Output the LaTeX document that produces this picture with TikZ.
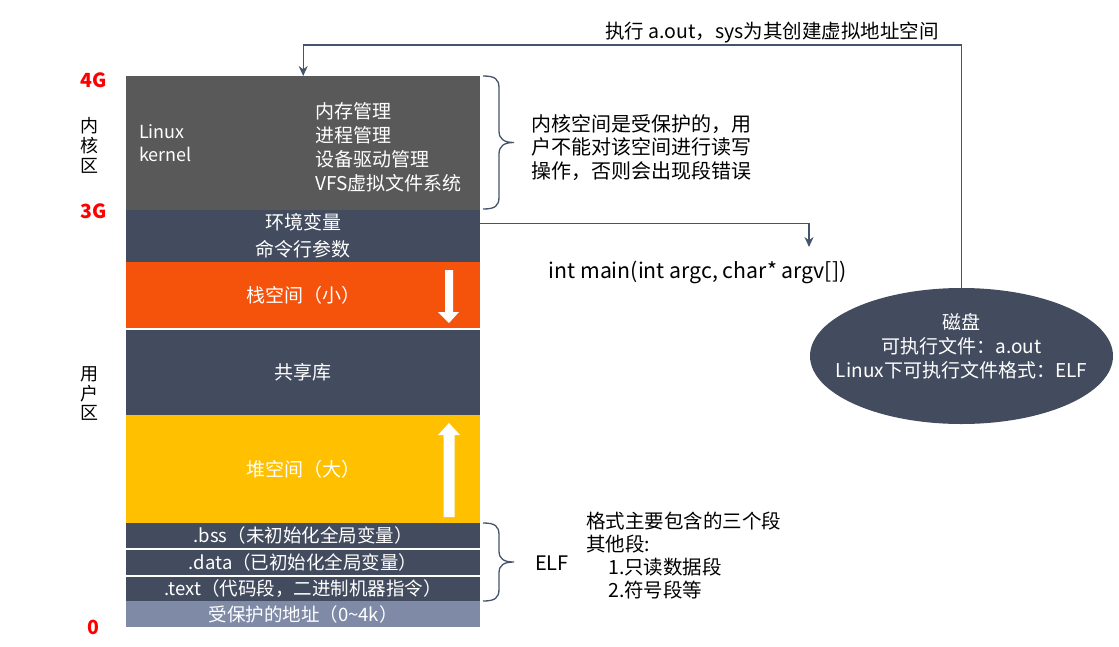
\documentclass[tikz,border=0pt]{standalone}
\usepackage{fontspec}
\setmainfont{Noto Sans CJK SC}
\usetikzlibrary{shapes.geometric,arrows.meta}
\definecolor{kgray}{HTML}{595959}
\definecolor{slate}{HTML}{434C5F}
\definecolor{lineslate}{HTML}{44546A}
\definecolor{stackor}{HTML}{F5520B}
\definecolor{heapy}{HTML}{FFC000}
\definecolor{protc}{HTML}{7E8AA6}
\newcommand\fsz[2]{\fontsize{#1}{#2}\selectfont}
\begin{document}
\begin{tikzpicture}[x=1pt,y=-1pt,
  blk/.style={anchor=north west, inner sep=0pt, minimum width=354pt, text=white, font=\fsz{19}{27}, align=center},
  wtxt/.style={text=white, inner sep=0pt, font=\fsz{19}{24}},
  btxt/.style={text=black, inner sep=0pt, font=\fsz{20}{23.5}, align=left},
  redlab/.style={text=red, inner sep=0pt, font=\fsz{19.5}{22}\bfseries},
  conn/.style={draw=lineslate, line width=1.3pt, -{Stealth[length=10pt,width=9pt]}},
  brc/.style={draw=lineslate, line width=1.3pt}]
\useasboundingbox (0,0) rectangle (1119,646);

% memory blocks
\node[blk, fill=kgray, minimum height=134pt] (kernel) at (126,76) {};
\node[blk, fill=slate, minimum height=52pt] (env) at (126,210) {环境变量\\命令行参数};
\node[blk, fill=stackor, minimum height=66pt] (stack) at (126,262) {栈空间（小）};
\node[blk, fill=slate, minimum height=85pt] (shlib) at (126,330) {共享库};
\node[blk, fill=heapy, minimum height=108pt] (heap) at (126,415) {堆空间（大）};
\node[blk, fill=slate, minimum height=25pt, font=\fsz{18.5}{22}] (bss) at (126,523) {.bss（未初始化全局变量）};
\node[blk, fill=slate, minimum height=25.5pt, font=\fsz{18.5}{22}] (data) at (126,549.5) {.data（已初始化全局变量）};
\node[blk, fill=slate, minimum height=24.5pt, font=\fsz{18.5}{22}] (text) at (126,576.5) {.text（代码段，二进制机器指令）};
\node[blk, fill=protc, minimum height=26pt, font=\fsz{18.5}{22}] (prot) at (126,601) {受保护的地址（0\textasciitilde 4k）};

% kernel texts
\node[wtxt, anchor=west, align=left, font=\fsz{18}{23}] (linux) at (139,143.5) {Linux\\kernel};
\node[wtxt, anchor=west, align=left] (klist) at (315,147) {内存管理\\进程管理\\设备驱动管理\\VFS虚拟文件系统};

% stack / heap arrows
\fill[white] (445,270) -- (453,270) -- (453,312) -- (459,312) -- (449,323) -- (438,312) -- (445,312) -- cycle;
\fill[white] (443.5,517) -- (454.5,517) -- (454.5,435) -- (460,435) -- (449,423) -- (438,435) -- (443.5,435) -- cycle;

% left labels
\node[redlab] (g4) at (93.5,80) {4G};
\node[redlab] (g3) at (93.5,211) {3G};
\node[redlab] (g0) at (93,627) {0};
\node[inner sep=0pt, font=\fsz{18}{20}, align=center] (kz) at (89,145) {内\\核\\区};
\node[inner sep=0pt, font=\fsz{18}{19.5}, align=center] (uz) at (89,394) {用\\户\\区};

% braces
\draw[brc] (483,76) .. controls (495,76) and (499,79) .. (499,88) -- (499,131) .. controls (499,139) and (504,142.5) .. (514,142.5) .. controls (504,142.5) and (499,146) .. (499,154) -- (499,197) .. controls (499,206) and (495,209) .. (483,209);
\draw[brc] (483,523) .. controls (495,523) and (499,526) .. (499,535) -- (499,551) .. controls (499,559) and (504,562) .. (514,562) .. controls (504,562) and (499,565) .. (499,573) -- (499,589) .. controls (499,598) and (495,601) .. (483,601);

% notes
\node[btxt, anchor=west] (knote) at (531,147.5) {内核空间是受保护的，用\\户不能对该空间进行读写\\操作，否则会出现段错误};
\node[btxt, anchor=west] (elf) at (535,563) {ELF};
\node[btxt, anchor=west, font=\fsz{19.5}{23}] (elfnote) at (586,556) {格式主要包含的三个段\\其他段:\\\hspace*{22pt}1.只读数据段\\\hspace*{22pt}2.符号段等};

% main signature
\node[inner sep=0pt, font=\fsz{21.3}{24}] (mainsig) at (697.5,272) {int main(int argc, char* argv[])};
\coordinate (argtip) at (809,247);
\draw[conn] ([yshift=13pt]env.east) -| (argtip);

% disk
\node[ellipse, fill=slate, minimum width=303pt, minimum height=136pt, inner sep=0pt] (disk) at (961.5,356) {};
\node[wtxt, align=center] (disktxt) at (961.5,346) {磁盘\\可执行文件：a.out\\Linux下可执行文件格式：ELF};

\coordinate (topc) at (600,45);
\draw[conn] (disk.north) |- (topc) -| (kernel.north);
\node[inner sep=0pt, font=\fsz{19.5}{24}, anchor=east] (exec) at (939,33) {执行 a.out，sys为其创建虚拟地址空间};
\end{tikzpicture}
\end{document}
